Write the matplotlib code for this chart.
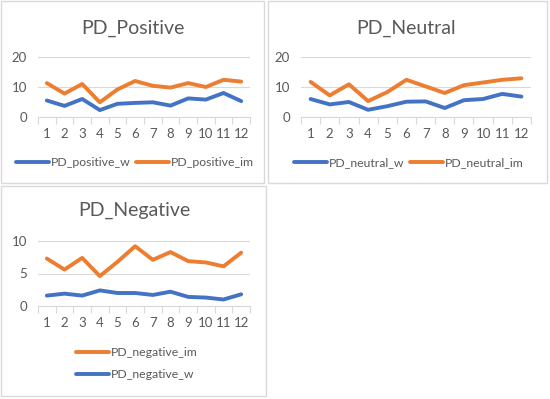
import matplotlib
matplotlib.use("Agg")
import matplotlib.pyplot as plt
from matplotlib.patches import Rectangle

categories = [str(i) for i in range(1, 13)]

pos_w = [5.5, 3.7, 6.0, 2.3, 4.4, 4.7, 4.9, 3.8, 6.2, 5.8, 8.0, 5.3]
pos_im = [11.3, 7.8, 11.0, 4.9, 9.2, 12.0, 10.4, 9.8, 11.3, 10.0, 12.4, 11.8]
neu_w = [6.0, 4.2, 5.0, 2.4, 3.6, 5.1, 5.2, 3.0, 5.6, 6.0, 7.7, 6.8]
neu_im = [11.7, 7.2, 10.9, 5.3, 8.3, 12.4, 10.2, 8.0, 10.6, 11.5, 12.4, 12.9]
neg_w = [1.6, 1.9, 1.6, 2.4, 2.0, 2.0, 1.7, 2.2, 1.4, 1.3, 1.0, 1.8]
neg_im = [7.3, 5.6, 7.4, 4.6, 6.8, 9.2, 7.1, 8.3, 6.9, 6.7, 6.1, 8.2]

BLUE = "#4472C4"
ORANGE = "#ED7D31"
TXT = "#595959"
GRID = "#D9D9D9"

plt.rcParams['font.family'] = ['Lato', 'DejaVu Sans']

W, H = 550, 399
fig = plt.figure(figsize=(W / 100, H / 100), dpi=100)

def px_rect(x0, y0, x1, y1):
    return [x0 / W, 1 - y1 / H, (x1 - x0) / W, (y1 - y0) / H]

def border(x0, y0, x1, y1):
    fig.patches.append(Rectangle((x0 / W, 1 - y1 / H), (x1 - x0) / W, (y1 - y0) / H,
                                 transform=fig.transFigure, fill=False,
                                 edgecolor="#D9D9D9", linewidth=1.0))

def panel(rect, title, title_xy, series, ymax, yticks, legend_xy, ncol):
    ax = fig.add_axes(px_rect(*rect))
    x = list(range(1, 13))
    for lab, vals, col in series:
        ax.plot(x, vals, color=col, lw=2.8, label=lab, solid_capstyle='round',
                solid_joinstyle='round')
    ax.set_xlim(0.5, 12.5)
    ax.set_ylim(0, ymax)
    ax.set_yticks(yticks)
    ax.set_xticks(x)
    ax.set_xticklabels(categories)
    ax.set_xticks([i + 0.5 for i in range(0, 13)], minor=True)
    ax.tick_params(axis='x', which='major', length=0, pad=8, labelsize=9.5, colors=TXT)
    ax.tick_params(axis='x', which='minor', length=5, color=GRID, width=0.8)
    ax.tick_params(axis='y', length=0, pad=8, labelsize=9.5, colors=TXT)
    for s in ['top', 'right', 'left']:
        ax.spines[s].set_visible(False)
    ax.spines['bottom'].set_color(GRID)
    ax.spines['bottom'].set_linewidth(0.8)
    ax.grid(axis='y', color=GRID, lw=0.8)
    ax.set_axisbelow(True)
    ax.patch.set_alpha(0)
    fig.text(title_xy[0] / W, 1 - title_xy[1] / H, title, ha='center', va='center',
             fontsize=14, color=TXT)
    leg = ax.legend(loc='center', bbox_to_anchor=(legend_xy[0] / W, 1 - legend_xy[1] / H),
                    bbox_transform=fig.transFigure, ncol=ncol, frameon=False,
                    fontsize=8.8, handlelength=2.7, columnspacing=0.5, handletextpad=0.15,
                    labelspacing=0.9, borderpad=0, borderaxespad=0)
    for t in leg.get_texts():
        t.set_color(TXT)
    return ax

border(1, 1, 264, 183)
border(268, 1, 547, 183)
border(1, 186, 266, 396)

panel((38, 57, 250, 117), "PD_Positive", (133, 28),
      [("PD_positive_w", pos_w, BLUE), ("PD_positive_im", pos_im, ORANGE)],
      20, [0, 10, 20], (135, 163), 2)
panel((301, 57, 531, 117), "PD_Neutral", (406, 28),
      [("PD_neutral_w", neu_w, BLUE), ("PD_neutral_im", neu_im, ORANGE)],
      20, [0, 10, 20], (409, 163), 2)
panel((38, 241, 250, 306), "PD_Negative", (134, 210),
      [("PD_negative_im", neg_im, ORANGE), ("PD_negative_w", neg_w, BLUE)],
      10, [0, 5, 10], (137, 364), 1)

fig.savefig("out.png", dpi=100)
